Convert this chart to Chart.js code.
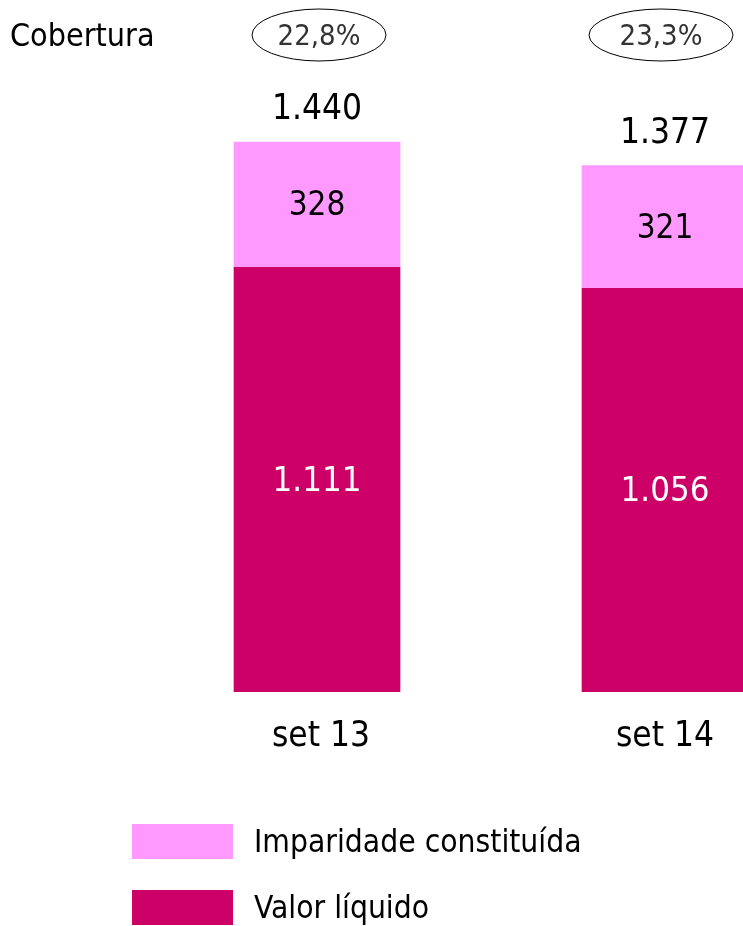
<!DOCTYPE html>
<html>
<head>
<meta charset="utf-8">
<script src="https://cdn.jsdelivr.net/npm/chart.js@4"></script>
<style>
  html, body { margin: 0; padding: 0; background: #fff; }
  #wrap { position: relative; width: 743px; height: 926px; overflow: hidden; }
  #chart { position: absolute; left: 0; top: 0; }
</style>
</head>
<body>
<div id="wrap"><canvas id="chart" width="900" height="926"></canvas></div>
<script>
const periods = ['set 13', 'set 14']
const valorLiquido = [1111, 1056]
const imparidade = [328, 321]
const totais = [1440, 1377]
const cobertura = [22.8, 23.3]

const FONT = '"DejaVu Sans Condensed", "DejaVu Sans", sans-serif'
const DARK = '#CC0066'
const LIGHT = '#FF99FF'

// thousands separator with a dot, decimals with a comma
const fmt = v => String(v).replace(/\B(?=(\d{3})+(?!\d))/g, '.')
const fmtPct = v => v.toFixed(1).replace('.', ',') + '%'

const labelsPlugin = {
  id: 'labels',
  afterDatasetsDraw (chart) {
    const { ctx, scales: { x, y } } = chart
    ctx.save()
    ctx.textAlign = 'center'
    ctx.textBaseline = 'middle'

    periods.forEach((p, i) => {
      const cx = x.getPixelForValue(i)
      const base = y.getPixelForValue(0)
      const mid = y.getPixelForValue(valorLiquido[i])
      const top = y.getPixelForValue(valorLiquido[i] + imparidade[i])

      ctx.font = `34.5px ${FONT}`
      ctx.fillStyle = '#fff'
      ctx.fillText(fmt(valorLiquido[i]), cx, (base + mid) / 2 + 2)
      ctx.font = `33px ${FONT}`
      ctx.fillStyle = '#000'
      ctx.fillText(fmt(imparidade[i]), cx, (mid + top) / 2 + 2)

      ctx.font = `35px ${FONT}`
      ctx.fillText(fmt(totais[i]), cx, top - 32)

      ctx.font = `35px ${FONT}`
      ctx.fillText(p, cx + (i === 0 ? 4 : 0), 737)

      // coverage ratio in an ellipse
      const ex = i === 0 ? 319 : 661
      const rx = i === 0 ? 67 : 72
      ctx.beginPath()
      ctx.ellipse(ex, 35, rx, 26, 0, 0, Math.PI * 2)
      ctx.strokeStyle = '#000'
      ctx.lineWidth = 1
      ctx.stroke()
      ctx.font = `29px ${FONT}`
      ctx.fillStyle = '#333'
      ctx.fillText(fmtPct(cobertura[i]), ex, 37)
    })

    ctx.textAlign = 'left'
    ctx.fillStyle = '#000'
    ctx.font = `32px ${FONT}`
    ctx.fillText('Cobertura', 10, 38)

    // legend
    const items = [[LIGHT, 'Imparidade constituída', 824], [DARK, 'Valor líquido', 890]]
    items.forEach(([c, t, top]) => {
      ctx.fillStyle = c
      ctx.fillRect(132, top, 101, 35)
      ctx.fillStyle = '#000'
      ctx.font = `31.5px ${FONT}`
      ctx.fillText(t, 254, top + 20)
    })
    ctx.restore()
  }
}

new Chart(document.getElementById('chart'), {
  type: 'bar',
  data: {
    labels: periods,
    datasets: [
      { label: 'Valor líquido', data: valorLiquido, backgroundColor: DARK },
      { label: 'Imparidade constituída', data: imparidade, backgroundColor: LIGHT }
    ]
  },
  options: {
    responsive: false,
    animation: false,
    layout: { padding: { left: 143, right: 61, top: 4, bottom: 234 } },
    datasets: { bar: { barThickness: 166 } },
    scales: {
      x: { stacked: true, display: false },
      y: { stacked: true, display: false, min: 0, max: 1800 }
    },
    plugins: { legend: { display: false }, tooltip: { enabled: false } }
  },
  plugins: [labelsPlugin]
})
</script>
</body>
</html>
